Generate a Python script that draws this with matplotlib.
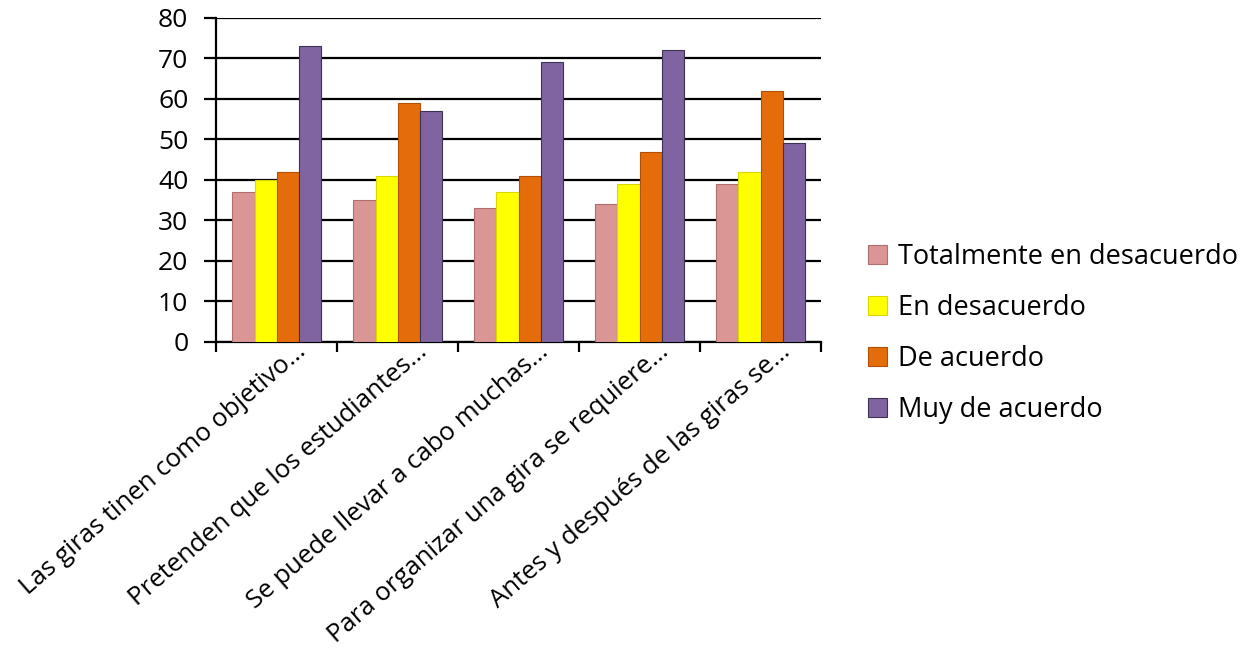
import numpy as np
import matplotlib.pyplot as plt
import matplotlib.transforms as mtransforms

# ========== DATA ========== #
categories = [
    "Las giras tinen como objetivo\u2026",
    "Pretenden que los estudiantes\u2026",
    "Se puede llevar a cabo muchas\u2026",
    "Para organizar una gira se requiere\u2026",
    "Antes y despu\u00e9s de las giras se\u2026",
]
series_names = ["Totalmente en desacuerdo", "En desacuerdo", "De acuerdo", "Muy de acuerdo"]
totalmente_desacuerdo = [37, 35, 33, 34, 39]
en_desacuerdo = [40, 41, 37, 39, 42]
de_acuerdo = [42, 59, 41, 47, 62]
muy_de_acuerdo = [73, 57, 69, 72, 49]
y_ticks = [0, 10, 20, 30, 40, 50, 60, 70, 80]

colors = ["#D99694", "#FFFF00", "#E46C0A", "#8064A2"]
edges = ["#B06E6C", "#D8D800", "#B04F05", "#3F3151"]

plt.rcParams['font.family'] = ['Open Sans', 'DejaVu Sans']

fig = plt.figure(figsize=(12.43, 6.52), dpi=100)
ax = fig.add_axes([0.1738, 0.4755, 0.4867, 0.497])

x = np.arange(len(categories))
bar_w = 0.182
all_series = [totalmente_desacuerdo, en_desacuerdo, de_acuerdo, muy_de_acuerdo]
handles = []
for k, vals in enumerate(all_series):
    offs = (k - 1.5) * bar_w
    b = ax.bar(x + offs, vals, bar_w, color=colors[k], edgecolor=edges[k],
               linewidth=0.8, label=series_names[k], zorder=3)
    handles.append(b)

ax.set_xlim(-0.5, len(categories) - 0.5)
ax.set_ylim(0, 80)
ax.set_yticks(y_ticks)
ax.yaxis.grid(True, color="black", linewidth=1.6, zorder=0)
ax.set_axisbelow(True)

for s in ["top", "right"]:
    ax.spines[s].set_visible(False)
ax.spines["left"].set_linewidth(1.6)
ax.spines["bottom"].set_linewidth(1.6)

ax.tick_params(axis="y", length=9, width=1.6, labelsize=19, pad=11)
ax.set_xticks(x)
ax.set_xticklabels(categories, rotation=41, ha="right", va="top",
                   rotation_mode="anchor", fontsize=18.5)
ax.tick_params(axis="x", which="major", length=0, pad=0)
ax.set_xticks(np.arange(-0.5, len(categories), 1.0), minor=True)
ax.tick_params(axis="x", which="minor", length=7, width=1.6)

# shift category labels a bit to the right
shift = mtransforms.ScaledTranslation(18 / 100, 3 / 100, fig.dpi_scale_trans)
for lbl in ax.get_xticklabels():
    lbl.set_transform(lbl.get_transform() + shift)

fig.legend(handles=handles, labels=series_names, loc="center left",
           bbox_to_anchor=(868 / 1243, 0.488), frameon=False, fontsize=19.5,
           borderpad=0, borderaxespad=0,
           handlelength=0.7, handleheight=0.7, labelspacing=0.85,
           handletextpad=0.4)

plt.savefig("out.png", dpi=100)
